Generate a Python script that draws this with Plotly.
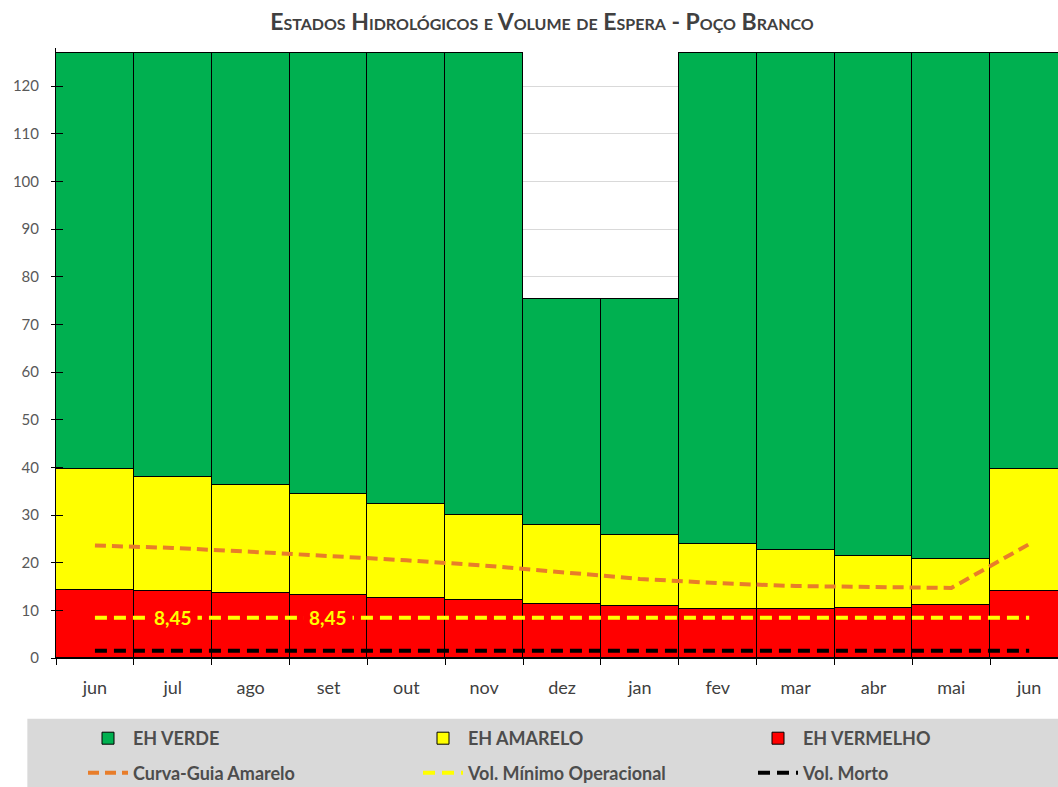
import plotly.graph_objects as go

# ---------------- data ----------------
months = ["jun", "jul", "ago", "set", "out", "nov", "dez", "jan", "fev", "mar", "abr", "mai", "jun"]
eh_vermelho_top = [14.2, 14.0, 13.7, 13.3, 12.6, 12.1, 11.4, 10.9, 10.2, 10.2, 10.5, 11.2, 14.1]
eh_amarelo_top = [39.6, 38.0, 36.3, 34.5, 32.3, 30.0, 27.9, 25.8, 23.9, 22.7, 21.5, 20.8, 39.6]
eh_verde_top = [127.0, 127.0, 127.0, 127.0, 127.0, 127.0, 75.4, 75.4, 127.0, 127.0, 127.0, 127.0, 127.0]
curva_guia_amarelo = [23.6, 23.1, 22.3, 21.5, 20.5, 19.4, 17.9, 16.6, 15.7, 15.1, 14.9, 14.7, 23.9]
vol_minimo_operacional = [8.45] * 13
vol_morto = [1.5] * 13
vol_min_label_idx = [1, 3]
y_ticks = list(range(0, 130, 10))

x = list(range(len(months)))
red_vals = eh_vermelho_top
yellow_vals = [a - r for a, r in zip(eh_amarelo_top, eh_vermelho_top)]
green_vals = [g - a for g, a in zip(eh_verde_top, eh_amarelo_top)]

FONT = "Lato"
TXT = "#404040"

fig = go.Figure()
bar_line = dict(color="black", width=1)
fig.add_trace(go.Bar(x=x, y=red_vals, name="<b>EH VERMELHO</b>", marker=dict(color="#FF0000", line=bar_line),
                     legend="legend", legendrank=3, hoverinfo="skip"))
fig.add_trace(go.Bar(x=x, y=yellow_vals, name="<b>EH AMARELO</b>", marker=dict(color="#FFFF00", line=bar_line),
                     legend="legend", legendrank=2, hoverinfo="skip"))
fig.add_trace(go.Bar(x=x, y=green_vals, name="<b>EH VERDE</b>", marker=dict(color="#00B050", line=bar_line),
                     legend="legend", legendrank=1, hoverinfo="skip"))

fig.add_trace(go.Scatter(x=x, y=curva_guia_amarelo, name="<b>Curva-Guia Amarelo</b>", mode="lines",
                         line=dict(color="#E87D2A", width=4, dash="11px,6px"), legend="legend2", legendrank=1))
fig.add_trace(go.Scatter(x=x, y=vol_minimo_operacional, name="<b>Vol. Mínimo Operacional</b>", mode="lines",
                         line=dict(color="#FFFF00", width=4, dash="12px,7px"), legend="legend2", legendrank=2))
fig.add_trace(go.Scatter(x=x, y=vol_morto, name="<b>Vol. Morto</b>", mode="lines",
                         line=dict(color="black", width=4, dash="12px,7px"), legend="legend2", legendrank=3))
# helper trace for the inner half of the y ticks
fig.add_trace(go.Scatter(x=[None], y=[None], yaxis="y2", showlegend=False, hoverinfo="skip"))

for i in vol_min_label_idx:
    label = f"{vol_minimo_operacional[i]:.2f}".replace(".", ",")
    fig.add_annotation(x=i, y=vol_minimo_operacional[i], text=f"<b>{label}</b>",
                       showarrow=False, font=dict(family=FONT, size=19, color="#FFFF00"),
                       bgcolor="#FF0000", borderpad=5, xanchor="center", yanchor="middle")

# legend background band
fig.add_shape(type="rect", xref="paper", yref="paper", x0=-0.0286, x1=1.0, y0=-0.215, y1=-0.0995,
              fillcolor="#D9D9D9", line=dict(width=0), layer="below")

legend_common = dict(orientation="h", xanchor="left", yanchor="top", x=0, xref="paper", yref="container",
                     bgcolor="rgba(0,0,0,0)", borderwidth=0, itemwidth=40, indentation=30,
                     entrywidth=250, entrywidthmode="pixels", traceorder="normal",
                     font=dict(family=FONT, size=18, color="#4D4D4D", weight="bold"))

fig.update_layout(
    width=1058, height=787,
    margin=dict(l=56, r=0, t=48, b=129),
    paper_bgcolor="white", plot_bgcolor="white",
    barmode="stack", bargap=0,
    showlegend=True,
    title=dict(text="Estados Hidrológicos e Volume de Espera - Poço Branco",
               font=dict(family=FONT, size=23, color=TXT, weight="bold", variant="small-caps"),
               x=0.485, xref="paper", xanchor="center", y=1 - 22 / 787, yref="container", yanchor="middle"),
    legend=dict(legend_common, y=1 - 720 / 787),
    legend2=dict(legend_common, y=1 - 754.5 / 787),
    xaxis=dict(type="category", range=[-0.5, 12.37], tickmode="array", tickvals=x, ticktext=months,
               tickson="boundaries", ticks="outside", ticklen=6, tickcolor="black",
               showline=True, linecolor="black", linewidth=1, showgrid=False, zeroline=False,
               ticklabelstandoff=13,
               tickfont=dict(family=FONT, size=18, color=TXT), fixedrange=True),
    yaxis=dict(range=[0, 128], tickmode="array", tickvals=y_ticks, ticks="outside", ticklen=4,
               tickcolor="black", showline=True, linecolor="black", linewidth=1,
               showgrid=True, gridcolor="#D9D9D9", gridwidth=1, zeroline=False,
               ticklabelstandoff=9,
               tickfont=dict(family=FONT, size=15, color="#595959")),
    yaxis2=dict(overlaying="y", side="left", range=[0, 128], tickmode="array", tickvals=y_ticks,
                ticks="inside", ticklen=7, tickcolor="black", showticklabels=False,
                showgrid=False, showline=False, zeroline=False),
)

fig.write_html("out.html")
